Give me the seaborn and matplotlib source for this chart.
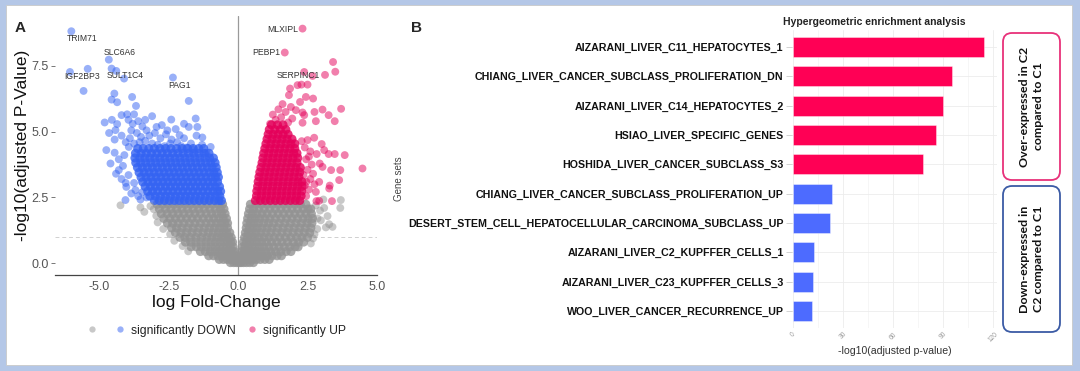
import pandas as pd
import matplotlib
matplotlib.use('Agg')
import matplotlib.pyplot as plt
from matplotlib.patches import Rectangle, FancyBboxPatch
import seaborn as sns

# ---------------- data: volcano plot ----------------
# dense grey cloud, rows of (y, [x values])
ns_left_rows = [
    (2.24, [-2.92, -2.72, -2.52, -2.32, -2.12, -1.92, -1.72, -1.52, -1.32, -1.12, -0.92, -0.72, -0.56]),
    (2.06, [-2.84, -2.62, -2.42, -2.22, -2.02, -1.82, -1.62, -1.42, -1.22, -1.02, -0.82, -0.64, -0.51]),
    (1.88, [-2.77, -2.56, -2.36, -2.16, -1.96, -1.76, -1.56, -1.36, -1.16, -0.96, -0.78, -0.60, -0.47]),
    (1.70, [-2.68, -2.46, -2.26, -2.06, -1.86, -1.66, -1.46, -1.26, -1.06, -0.88, -0.70, -0.54, -0.42]),
    (1.52, [-2.55, -2.36, -2.16, -1.96, -1.76, -1.56, -1.36, -1.16, -0.97, -0.79, -0.62, -0.48, -0.38]),
    (1.34, [-2.40, -2.22, -2.02, -1.82, -1.62, -1.42, -1.22, -1.03, -0.85, -0.68, -0.52, -0.38]),
    (1.16, [-2.26, -2.06, -1.86, -1.66, -1.46, -1.26, -1.07, -0.89, -0.72, -0.56, -0.42, -0.30]),
    (0.98, [-2.10, -1.92, -1.72, -1.52, -1.32, -1.12, -0.94, -0.77, -0.61, -0.46, -0.34, -0.25]),
    (0.80, [-1.90, -1.71, -1.52, -1.33, -1.15, -0.98, -0.82, -0.66, -0.51, -0.38, -0.27, -0.20]),
    (0.62, [-1.70, -1.51, -1.33, -1.15, -0.98, -0.82, -0.67, -0.53, -0.40, -0.28, -0.18]),
    (0.44, [-1.36, -1.18, -1.01, -0.85, -0.70, -0.56, -0.43, -0.31, -0.20, -0.12]),
    (0.28, [-1.06, -0.89, -0.73, -0.58, -0.45, -0.33, -0.22, -0.12]),
    (0.14, [-0.68, -0.53, -0.39, -0.27, -0.16, -0.07]),
    (0.02, [-0.28, -0.16, -0.06]),
]
ns_right_rows = [
    (2.24, [0.44, 0.64, 0.84, 1.04, 1.24, 1.44, 1.64, 1.84, 2.04, 2.24, 2.44]),
    (2.06, [0.41, 0.56, 0.74, 0.94, 1.14, 1.34, 1.54, 1.74, 1.94, 2.14, 2.34, 2.52, 2.62]),
    (1.88, [0.37, 0.52, 0.68, 0.86, 1.04, 1.24, 1.44, 1.64, 1.84, 2.04, 2.24, 2.44, 2.64]),
    (1.70, [0.34, 0.48, 0.62, 0.78, 0.96, 1.14, 1.34, 1.54, 1.74, 1.94, 2.14, 2.34, 2.52, 2.68]),
    (1.52, [0.31, 0.44, 0.58, 0.74, 0.92, 1.10, 1.28, 1.48, 1.68, 1.88, 2.08, 2.28, 2.48, 2.66]),
    (1.34, [0.29, 0.41, 0.54, 0.69, 0.86, 1.04, 1.22, 1.42, 1.62, 1.82, 2.02, 2.22, 2.42, 2.62]),
    (1.16, [0.26, 0.37, 0.50, 0.65, 0.82, 1.00, 1.18, 1.38, 1.58, 1.78, 1.98, 2.18, 2.38, 2.58]),
    (0.98, [0.23, 0.34, 0.46, 0.60, 0.76, 0.93, 1.11, 1.30, 1.50, 1.70, 1.90, 2.10, 2.30, 2.50]),
    (0.80, [0.19, 0.29, 0.41, 0.54, 0.69, 0.85, 1.02, 1.20, 1.39, 1.58, 1.78, 1.98, 2.18, 2.36]),
    (0.62, [0.16, 0.25, 0.36, 0.48, 0.62, 0.77, 0.93, 1.10, 1.28, 1.47, 1.66, 1.86, 2.05, 2.16]),
    (0.44, [0.12, 0.21, 0.31, 0.42, 0.55, 0.69, 0.84, 1.00, 1.17, 1.35, 1.54, 1.73, 1.90]),
    (0.28, [0.08, 0.16, 0.25, 0.35, 0.47, 0.60, 0.74, 0.89, 1.05, 1.22, 1.40, 1.56]),
    (0.14, [0.05, 0.12, 0.20, 0.30, 0.41, 0.53, 0.66, 0.80, 0.96, 1.12]),
    (0.02, [0.03, 0.10, 0.19, 0.30, 0.42, 0.55]),
]
ns_outliers = [(-4.24, 2.20), (-3.52, 2.12), (-3.38, 1.95), (-3.16, 2.17), (-3.04, 2.05),
               (-2.95, 1.80), (-2.90, 1.55), (-2.70, 1.30), (-2.45, 1.10), (-2.30, 0.85),
               (-2.00, 0.65), (-1.80, 0.45), (3.10, 2.10), (3.68, 2.10), (2.98, 1.63),
               (3.22, 1.79), (3.16, 1.36), (3.40, 1.38), (2.70, 0.94), (2.62, 0.75),
               (2.86, 1.70), (3.28, 1.48), (2.80, 2.20), (2.95, 2.00), (2.85, 1.30),
               (2.75, 1.10), (3.07, 2.42), (3.70, 2.40)]

down_core_rows = [
    (2.38, [-3.02, -2.84, -2.66, -2.48, -2.30, -2.12, -1.94, -1.76, -1.58, -1.40, -1.22, -1.04, -0.86, -0.70, -0.60]),
    (2.55, [-3.18, -2.99, -2.80, -2.62, -2.44, -2.26, -2.08, -1.90, -1.72, -1.54, -1.36, -1.18, -1.00, -0.83, -0.66]),
    (2.73, [-3.26, -3.08, -2.90, -2.71, -2.53, -2.35, -2.17, -1.99, -1.81, -1.63, -1.45, -1.27, -1.09, -0.91, -0.74, -0.63]),
    (2.91, [-3.35, -3.16, -2.98, -2.80, -2.62, -2.44, -2.26, -2.08, -1.90, -1.72, -1.54, -1.36, -1.18, -1.00, -0.83, -0.67]),
    (3.09, [-3.44, -3.25, -3.07, -2.89, -2.71, -2.53, -2.35, -2.17, -1.99, -1.81, -1.63, -1.45, -1.27, -1.09, -0.91, -0.74]),
    (3.27, [-3.50, -3.32, -3.14, -2.96, -2.78, -2.60, -2.42, -2.24, -2.06, -1.88, -1.70, -1.52, -1.34, -1.16, -0.98, -0.82, -0.71]),
    (3.45, [-3.57, -3.39, -3.21, -3.03, -2.85, -2.67, -2.49, -2.31, -2.13, -1.95, -1.77, -1.59, -1.41, -1.23, -1.05, -0.88, -0.75]),
    (3.64, [-3.63, -3.45, -3.27, -3.09, -2.91, -2.73, -2.55, -2.37, -2.19, -2.01, -1.83, -1.65, -1.47, -1.29, -1.11, -0.94, -0.79]),
    (3.82, [-3.69, -3.51, -3.33, -3.15, -2.97, -2.79, -2.61, -2.43, -2.25, -2.07, -1.89, -1.71, -1.53, -1.35, -1.17, -0.99, -0.83]),
    (4.00, [-3.72, -3.54, -3.36, -3.18, -3.00, -2.82, -2.64, -2.46, -2.28, -2.10, -1.92, -1.74, -1.56, -1.38, -1.20, -1.03, -0.89]),
    (4.18, [-3.70, -3.50, -3.31, -3.12, -2.93, -2.74, -2.55, -2.36, -2.17, -1.98, -1.79, -1.60, -1.41, -1.22, -1.05]),
    (4.36, [-3.62, -3.42, -3.22, -3.02, -2.82, -2.62, -2.42, -2.22, -2.02, -1.82, -1.62, -1.42, -1.24]),
]
down_sparse = [(-6.01, 8.82), (-4.66, 7.74), (-6.06, 7.27), (-5.42, 7.39), (-4.56, 7.40), (-4.39, 7.31),
               (-4.11, 7.02), (-2.35, 7.06), (-5.57, 6.55), (-4.46, 6.45), (-4.56, 6.22), (-4.36, 6.12),
               (-3.82, 6.32), (-1.78, 6.17), (-3.68, 5.98), (-4.20, 5.63), (-4.00, 5.66), (-3.75, 5.66),
               (-3.10, 5.59), (-2.41, 5.46), (-1.53, 5.50), (-1.47, 5.18), (-1.78, 5.18), (-4.81, 5.35),
               (-4.36, 5.29), (-4.42, 5.06), (-2.94, 5.18), (-2.11, 4.87), (-4.60, 3.79), (-4.30, 3.54),
               (-4.03, 2.90), (-4.06, 2.40), (-3.70, 2.78), (-3.52, 2.42), (-1.29, 4.78), (-0.99, 4.42),
               (-4.10, 4.11), (-3.94, 4.42), (-3.95, 5.45), (-3.80, 5.30), (-3.60, 5.40), (-3.45, 5.20),
               (-3.30, 5.05), (-3.85, 5.05), (-3.65, 4.95), (-3.50, 4.80), (-3.20, 4.85), (-3.00, 4.95),
               (-2.80, 4.75), (-2.60, 4.90), (-2.40, 4.70), (-2.20, 4.60), (-1.95, 4.75), (-1.70, 4.55),
               (-1.50, 4.85), (-1.30, 4.50), (-4.20, 4.85), (-4.05, 4.60), (-3.90, 4.75), (-3.75, 4.55),
               (-3.55, 4.60), (-3.35, 4.65), (-3.10, 4.55), (-2.90, 4.50), (-2.65, 4.45), (-2.45, 4.55),
               (-2.05, 4.45), (-1.85, 4.40), (-1.60, 4.30), (-1.15, 4.20), (-3.35, 5.45), (-2.75, 5.25),
               (-2.55, 5.05), (-2.25, 5.10), (-1.95, 5.30), (-4.55, 5.45), (-4.65, 4.95), (-4.45, 4.70),
               (-4.75, 4.30), (-4.45, 4.20), (-4.30, 3.95), (-4.40, 3.40), (-4.20, 3.20), (-4.15, 3.70),
               (-3.95, 3.35), (-4.05, 3.05), (-3.85, 2.65), (-3.75, 3.05), (-3.60, 2.55), (-3.45, 2.70),
               (-3.30, 2.50)]

up_core_rows = [
    (2.38, [0.62, 0.80, 0.98, 1.16, 1.34, 1.52, 1.70, 1.88, 2.06, 2.22]),
    (2.56, [0.66, 0.84, 1.02, 1.20, 1.38, 1.56, 1.74, 1.92, 2.10, 2.27]),
    (2.74, [0.67, 0.85, 1.03, 1.21, 1.39, 1.57, 1.75, 1.93, 2.11, 2.29]),
    (2.92, [0.70, 0.88, 1.06, 1.24, 1.42, 1.60, 1.78, 1.96, 2.14, 2.30]),
    (3.10, [0.72, 0.90, 1.08, 1.26, 1.44, 1.62, 1.80, 1.98, 2.16, 2.30]),
    (3.28, [0.75, 0.93, 1.11, 1.29, 1.47, 1.65, 1.83, 2.01, 2.19]),
    (3.46, [0.78, 0.96, 1.14, 1.32, 1.50, 1.68, 1.86, 2.04, 2.22]),
    (3.64, [0.82, 1.00, 1.18, 1.36, 1.54, 1.72, 1.90, 2.08, 2.24]),
    (3.82, [0.86, 1.04, 1.22, 1.40, 1.58, 1.76, 1.94, 2.12]),
    (4.00, [0.89, 1.07, 1.25, 1.43, 1.61, 1.79, 1.97, 2.15]),
    (4.18, [0.92, 1.10, 1.28, 1.46, 1.64, 1.82, 2.00, 2.12]),
    (4.36, [0.96, 1.14, 1.32, 1.50, 1.68, 1.86, 2.04]),
    (4.54, [1.00, 1.18, 1.36, 1.54, 1.72, 1.90, 2.04]),
    (4.72, [1.04, 1.22, 1.40, 1.58, 1.76, 1.94]),
    (4.90, [1.08, 1.26, 1.44, 1.62, 1.80]),
    (5.08, [1.12, 1.32, 1.52, 1.72]),
    (5.26, [1.20, 1.42, 1.62]),
]
up_sparse = [(2.32, 8.92), (1.68, 8.01), (3.42, 7.65), (3.50, 7.28), (2.38, 7.27), (2.68, 7.12),
             (3.13, 7.16), (2.50, 6.79), (2.28, 6.79), (2.14, 6.77), (1.87, 6.64), (1.83, 6.39),
             (2.44, 6.32), (2.23, 6.13), (2.70, 6.26), (1.90, 5.94), (2.08, 5.82), (2.32, 5.73),
             (2.38, 5.63), (2.75, 5.75), (3.04, 5.84), (3.26, 5.63), (3.71, 5.87), (3.48, 5.40),
             (2.80, 5.40), (2.32, 5.34), (1.71, 5.75), (2.74, 4.77), (2.50, 4.68), (2.29, 4.64),
             (3.01, 4.53), (3.10, 4.30), (3.26, 4.15), (3.48, 4.15), (3.84, 4.11), (2.83, 4.15),
             (4.48, 3.60), (3.68, 3.54), (3.35, 3.54), (3.64, 3.16), (2.94, 3.79), (3.04, 3.66),
             (2.92, 3.09), (3.28, 2.84), (2.80, 2.71), (2.82, 2.36), (2.92, 2.37), (3.38, 2.36),
             (2.70, 3.40), (2.46, 3.09), (3.30, 2.95), (2.45, 2.55), (2.55, 2.80), (2.40, 2.95),
             (2.60, 3.20), (2.50, 3.55), (2.65, 3.75), (2.45, 3.95), (2.60, 4.25), (2.40, 4.40),
             (2.75, 3.00), (2.35, 3.35), (2.55, 4.05), (1.35, 5.45), (1.55, 5.55), (1.25, 5.65),
             (1.45, 5.85), (1.60, 6.05), (1.95, 5.50), (1.80, 5.35), (1.15, 5.30)]

gene_labels = {'TRIM71': (-6.01, 8.82), 'SLC6A6': (-4.66, 7.74), 'IGF2BP3': (-5.42, 7.39),
               'SULT1C4': (-4.11, 7.02), 'PAG1': (-2.35, 7.06), 'MLXIPL': (2.32, 8.92),
               'PEBP1': (1.68, 8.01), 'SERPINC1': (2.38, 7.27)}

# ---------------- data: enrichment bars ----------------
gene_sets = ['AIZARANI_LIVER_C11_HEPATOCYTES_1',
             'CHIANG_LIVER_CANCER_SUBCLASS_PROLIFERATION_DN',
             'AIZARANI_LIVER_C14_HEPATOCYTES_2',
             'HSIAO_LIVER_SPECIFIC_GENES',
             'HOSHIDA_LIVER_CANCER_SUBCLASS_S3',
             'CHIANG_LIVER_CANCER_SUBCLASS_PROLIFERATION_UP',
             'DESERT_STEM_CELL_HEPATOCELLULAR_CARCINOMA_SUBCLASS_UP',
             'AIZARANI_LIVER_C2_KUPFFER_CELLS_1',
             'AIZARANI_LIVER_C23_KUPFFER_CELLS_3',
             'WOO_LIVER_CANCER_RECURRENCE_UP']
enrich_values = [114.6, 95.4, 89.8, 85.6, 77.8, 23.2, 22.4, 12.8, 11.8, 11.2]
direction = ['up'] * 5 + ['down'] * 5

# ---------------- build tables ----------------
dense, sparse = [], []
for y, xs in ns_left_rows + ns_right_rows:
    dense += [(x, y, 'ns') for x in xs]
for y, xs in down_core_rows:
    dense += [(x, y, 'significantly DOWN') for x in xs]
for y, xs in up_core_rows:
    dense += [(x, y, 'significantly UP') for x in xs]
sparse += [(x, y, 'ns') for x, y in ns_outliers]
sparse += [(x, y, 'significantly DOWN') for x, y in down_sparse]
sparse += [(x, y, 'significantly UP') for x, y in up_sparse]
cols = ['logFC', 'neglogp', 'group']
volcano_dense = pd.DataFrame(dense, columns=cols)
volcano_sparse = pd.DataFrame(sparse, columns=cols)

bars = pd.DataFrame({'set': gene_sets, 'value': enrich_values, 'dir': direction})

# ---------------- figure ----------------
sns.set_theme(style='white')
plt.rcParams['font.family'] = ['Liberation Sans', 'DejaVu Sans']

fig = plt.figure(figsize=(10.8, 3.71), dpi=100)
fig.patch.set_facecolor('#B4C7E7')
fig.add_artist(Rectangle((0.06, 0.06), 10.66, 3.60, transform=fig.dpi_scale_trans,
                         facecolor='white', edgecolor='#c9c9c9', lw=0.6, zorder=-1))

# panel A: volcano
ax1 = fig.add_axes([0.0509, 0.2588, 0.2981, 0.6981])
ax1.axvline(0, color='#9a9a9a', lw=0.9, zorder=0)
ax1.axhline(1.0, color='#d0d0d0', lw=0.7, ls=(0, (4, 3)), zorder=0)
order = ['ns', 'significantly DOWN', 'significantly UP']
palette = {'ns': '#939393', 'significantly DOWN': '#3463f2', 'significantly UP': '#e4005a'}
sns.scatterplot(data=volcano_dense, x='logFC', y='neglogp', hue='group', hue_order=order,
                palette=palette, s=42, alpha=0.8, linewidth=0, legend=False, ax=ax1)
sns.scatterplot(data=volcano_sparse, x='logFC', y='neglogp', hue='group', hue_order=order,
                palette=palette, s=32, alpha=0.5, linewidth=0, ax=ax1)
offsets = {'TRIM71': (8, -5), 'SLC6A6': (8, 5), 'IGF2BP3': (-4, -5.5), 'SULT1C4': (1, 2),
           'PAG1': (5, -5.5), 'MLXIPL': (-14.5, -0.5), 'PEBP1': (-13, 0), 'SERPINC1': (-4, -2.6)}
for name, (x, y) in gene_labels.items():
    ax1.annotate(name, xy=(x, y), xytext=offsets[name], textcoords='offset points',
                 ha='center', va='center', fontsize=6.2, color='#333333')

ax1.set_xlim(-6.6, 5.0)
ax1.set_ylim(-0.45, 9.4)
ax1.set_xticks([-5.0, -2.5, 0.0, 2.5, 5.0])
ax1.set_xticklabels(['-5.0', '-2.5', '0.0', '2.5', '5.0'])
ax1.set_yticks([0.0, 2.5, 5.0, 7.5])
ax1.set_yticklabels(['0.0', '2.5', '5.0', '7.5'])
ax1.tick_params(axis='both', labelsize=9, labelcolor='#555555', colors='#777777',
                length=3, width=0.7, pad=1.5, left=True, bottom=False)
ax1.set_xlabel('log Fold-Change', fontsize=12.5, color='#111111', labelpad=1)
ax1.set_ylabel('-log10(adjusted P-Value)', fontsize=12.5, color='#111111', labelpad=1)
for side in ['top', 'right', 'left']:
    ax1.spines[side].set_visible(False)
ax1.spines['bottom'].set_color('#444444')
ax1.spines['bottom'].set_linewidth(0.9)

leg = ax1.get_legend()
handles = leg.legend_handles
leg.remove()
for h in handles:
    h.set_alpha(0.5)
ax1.legend(handles, ['', 'significantly DOWN', 'significantly UP'], loc='center',
           bbox_to_anchor=(0.5, -0.215), ncol=3, frameon=False, fontsize=8.7,
           handlelength=1.0, handletextpad=0.4, columnspacing=0.9, markerscale=0.8,
           labelcolor='#222222')

# panel B: enrichment bars
ax2 = fig.add_axes([0.7333, 0.1159, 0.1898, 0.8032])
sns.barplot(data=bars, x='value', y='set', hue='dir', palette={'up': '#FF0055', 'down': '#4D6BFF'},
            dodge=False, width=0.68, legend=False, saturation=1, edgecolor=(1, 1, 1, 0.45),
            linewidth=0.6, orient='h', ax=ax2)
ax2.set_xlim(-0.6, 122.4)
ax2.set_ylim(9.58, -0.58)
ax2.set_xticks([0, 30, 60, 90, 120])
ax2.set_xticks([15, 45, 75, 105], minor=True)
ax2.set_xticklabels(['0', '30', '60', '90', '120'], rotation=45)
ax2.grid(True, which='major', color='#ececec', lw=0.6)
ax2.grid(True, which='minor', axis='x', color='#f3f3f3', lw=0.5)
ax2.set_axisbelow(True)
for side in ax2.spines:
    ax2.spines[side].set_visible(False)
ax2.tick_params(axis='x', labelsize=4.8, labelcolor='#999999', length=0, pad=2)
ax2.tick_params(axis='y', labelsize=7.7, labelcolor='#111111', colors='#cccccc',
                length=4, width=0.6, pad=2, left=True)
for lab in ax2.get_yticklabels():
    lab.set_fontweight('bold')
    lab.set_color('#111111')
ax2.set_xlabel('-log10(adjusted p-value)', fontsize=7.6, color='#333333', labelpad=2)
ax2.set_ylabel('Gene sets', fontsize=7, color='#444444', labelpad=3)
fig.text(783 / 1080, 1 - 22 / 371, 'Hypergeometric enrichment analysis', ha='left', va='center',
         fontsize=7.5, fontweight='bold', color='#222222')

# side boxes
fig.add_artist(FancyBboxPatch((10.03, 1.91), 0.57, 1.47, boxstyle='round,pad=0,rounding_size=0.09',
                              transform=fig.dpi_scale_trans, facecolor='white',
                              edgecolor='#e8317a', lw=1.3))
fig.add_artist(FancyBboxPatch((10.03, 0.39), 0.57, 1.46, boxstyle='round,pad=0,rounding_size=0.09',
                              transform=fig.dpi_scale_trans, facecolor='white',
                              edgecolor='#3b5ba5', lw=1.3))
fig.text(10.315 / 10.8, 2.645 / 3.71, 'Over-expressed in C2\ncompared to C1', rotation=90,
         ha='center', va='center', multialignment='center', fontsize=8.9, fontweight='bold',
         family=['Lato', 'DejaVu Sans'], linespacing=1.25, color='#111111')
fig.text(10.315 / 10.8, 1.12 / 3.71, 'Down-expressed in\nC2 compared to C1', rotation=90,
         ha='center', va='center', multialignment='center', fontsize=8.9, fontweight='bold',
         family=['Lato', 'DejaVu Sans'], linespacing=1.25, color='#111111')

# panel letters
fig.text(20 / 1080, 1 - 28 / 371, 'A', fontsize=11, fontweight='bold', ha='center', va='center')
fig.text(417 / 1080, 1 - 28 / 371, 'B', fontsize=11, fontweight='bold', ha='center', va='center')

fig.savefig('out.png', dpi=100, facecolor=fig.get_facecolor())
